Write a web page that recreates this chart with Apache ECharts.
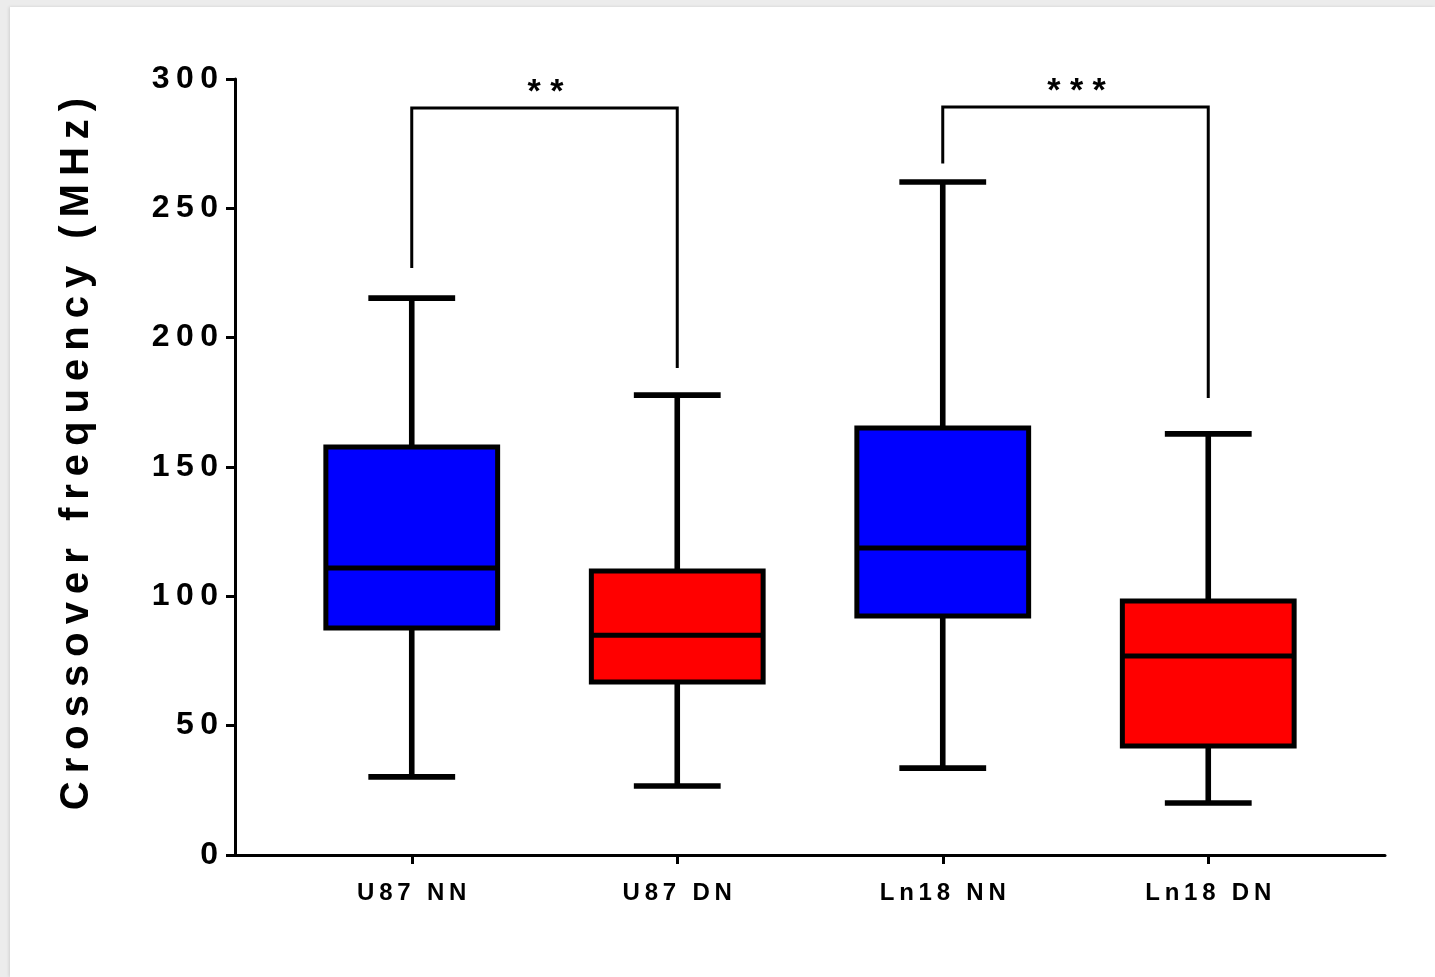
<!DOCTYPE html>
<html>
<head>
<meta charset="utf-8">
<script src="https://cdn.jsdelivr.net/npm/echarts@6.0.0/dist/echarts.min.js"></script>
<style>
  html, body { margin: 0; padding: 0; background: #ececec; width: 1435px; height: 977px; overflow: hidden; }
  #panel { position: absolute; left: 10px; top: 7px; right: 0; bottom: 0; background: #ffffff; box-shadow: -1px 0 3px rgba(0,0,0,0.12); }
  #chart { position: absolute; left: 0; top: 0; width: 1435px; height: 977px; }
</style>
</head>
<body>
<div id="panel"></div>
<div id="chart"></div>
<script>
// ---- data ----
const categories = ['U87 NN', 'U87 DN', 'Ln18 NN', 'Ln18 DN'];
const whiskerMin = [30.2, 26.7, 33.6, 20.1];
const q1 = [87.8, 66.9, 92.4, 42.1];
const median = [111.0, 85.0, 118.7, 76.9];
const q3 = [157.7, 109.8, 165.1, 98.2];
const whiskerMax = [215.3, 177.8, 260.2, 162.8];

// significance brackets
const bracketFrom = [0, 2];
const bracketTo = [1, 3];
const bracketTop = [288.8, 289.2];
const bracketLeftEnd = [226.9, 267.3];
const bracketRightEnd = [188.3, 176.7];
const bracketLabels = ['**', '***'];

const yAxisTitle = 'Crossover frequency (MHz)';
const yMin = 0, yMax = 300, yInterval = 50;

// ---- styles ----
const boxColors = ['#0000ff', '#ff0000', '#0000ff', '#ff0000'];
const FONT = "'Liberation Sans', Arial, sans-serif";
const THIN = '\u2009';

// letter-spaced text (thin space between letters, wider gap between words)
function spaced(s) {
  return s.split(' ').map(w => w.split('').join(THIN)).join(THIN + ' ' + THIN);
}

const chart = echarts.init(document.getElementById('chart'), null, { renderer: 'canvas' });

const boxData = categories.map((c, i) => [i, whiskerMin[i], q1[i], median[i], q3[i], whiskerMax[i]]);
const bracketData = bracketFrom.map((f, i) => [f, bracketTo[i], bracketTop[i], bracketLeftEnd[i], bracketRightEnd[i]]);

function renderBox(params, api) {
  const i = api.value(0);
  const x = api.coord([i, 0])[0];
  const yLo = api.coord([i, api.value(1)])[1];
  const yQ1 = api.coord([i, api.value(2)])[1];
  const yMed = api.coord([i, api.value(3)])[1];
  const yQ3 = api.coord([i, api.value(4)])[1];
  const yHi = api.coord([i, api.value(5)])[1];
  const band = api.size([1, 0])[0];
  const bw = band * 0.647;
  const cw = band * 0.327;
  const wl = 5.6;
  return {
    type: 'group',
    children: [
      { type: 'line', shape: { x1: x, y1: yQ3, x2: x, y2: yHi }, style: { stroke: '#000', lineWidth: wl } },
      { type: 'line', shape: { x1: x, y1: yQ1, x2: x, y2: yLo }, style: { stroke: '#000', lineWidth: wl } },
      { type: 'line', shape: { x1: x - cw / 2, y1: yHi, x2: x + cw / 2, y2: yHi }, style: { stroke: '#000', lineWidth: wl } },
      { type: 'line', shape: { x1: x - cw / 2, y1: yLo, x2: x + cw / 2, y2: yLo }, style: { stroke: '#000', lineWidth: wl } },
      { type: 'rect', shape: { x: x - bw / 2, y: yQ3, width: bw, height: yQ1 - yQ3 }, style: { fill: boxColors[params.dataIndex], stroke: '#000', lineWidth: 5 } },
      { type: 'line', shape: { x1: x - bw / 2, y1: yMed, x2: x + bw / 2, y2: yMed }, style: { stroke: '#000', lineWidth: 5 } }
    ]
  };
}

function renderBracket(params, api) {
  const a = api.value(0), b = api.value(1);
  const top = api.value(2), le = api.value(3), re = api.value(4);
  const p1 = api.coord([a, le]);
  const p2 = api.coord([a, top]);
  const p3 = api.coord([b, top]);
  const p4 = api.coord([b, re]);
  const label = bracketLabels[params.dataIndex].split('').join(' ');
  return {
    type: 'group',
    children: [
      { type: 'polyline', shape: { points: [p1, p2, p3, p4] }, style: { stroke: '#000', lineWidth: 3, fill: null } },
      { type: 'text', style: { text: label, x: (p2[0] + p3[0]) / 2 + 1, y: p2[1] + 2, align: 'center', verticalAlign: 'bottom', fill: '#000', font: 'bold 34px ' + FONT } }
    ]
  };
}

const option = {
  backgroundColor: 'transparent',
  animation: false,
  textStyle: { fontFamily: FONT },
  grid: [
    { left: 235, right: 50, top: 79, bottom: 122, containLabel: false },
    { left: 279, right: 94, top: 79, bottom: 122, containLabel: false }
  ],
  xAxis: [
    {
      gridIndex: 0, type: 'value', min: 0, max: 1,
      axisLine: { show: true, lineStyle: { color: '#000', width: 3 } },
      axisTick: { show: false }, axisLabel: { show: false }, splitLine: { show: false }
    },
    {
      gridIndex: 1, type: 'category', data: categories, boundaryGap: true,
      axisLine: { show: false },
      axisTick: { show: true, alignWithLabel: true, length: 9, lineStyle: { color: '#000', width: 3 } },
      axisLabel: {
        show: true, margin: 26, color: '#000', fontSize: 24, fontWeight: 'bold', fontFamily: FONT,
        formatter: v => spaced(v)
      },
      splitLine: { show: false }
    }
  ],
  yAxis: [
    {
      gridIndex: 0, type: 'value', min: yMin, max: yMax, interval: yInterval,
      axisLine: { show: true, lineStyle: { color: '#000', width: 3 } },
      axisTick: { show: true, length: 9, lineStyle: { color: '#000', width: 3 } },
      axisLabel: {
        show: true, margin: 17, color: '#000', fontSize: 32, fontWeight: 'bold', fontFamily: FONT,
        padding: [10, 0, 0, 0],
        formatter: v => String(v).split('').join(THIN)
      },
      splitLine: { show: false },
      name: spaced(yAxisTitle),
      nameLocation: 'middle', nameGap: 138, nameRotate: 90,
      nameTextStyle: { color: '#000', fontSize: 40, fontWeight: 'bold', fontFamily: FONT, padding: [0, 0, 0, 26] }
    },
    {
      gridIndex: 1, type: 'value', min: yMin, max: yMax, interval: yInterval, show: false
    }
  ],
  series: [
    {
      type: 'custom', xAxisIndex: 1, yAxisIndex: 1, renderItem: renderBox, data: boxData,
      encode: { x: 0, y: [1, 2, 3, 4, 5] }, clip: false, z: 3
    },
    {
      type: 'custom', xAxisIndex: 1, yAxisIndex: 1, renderItem: renderBracket, data: bracketData,
      encode: { x: [0, 1], y: [2, 3, 4] }, clip: false, z: 2
    }
  ]
};
chart.setOption(option);
</script>
</body>
</html>
